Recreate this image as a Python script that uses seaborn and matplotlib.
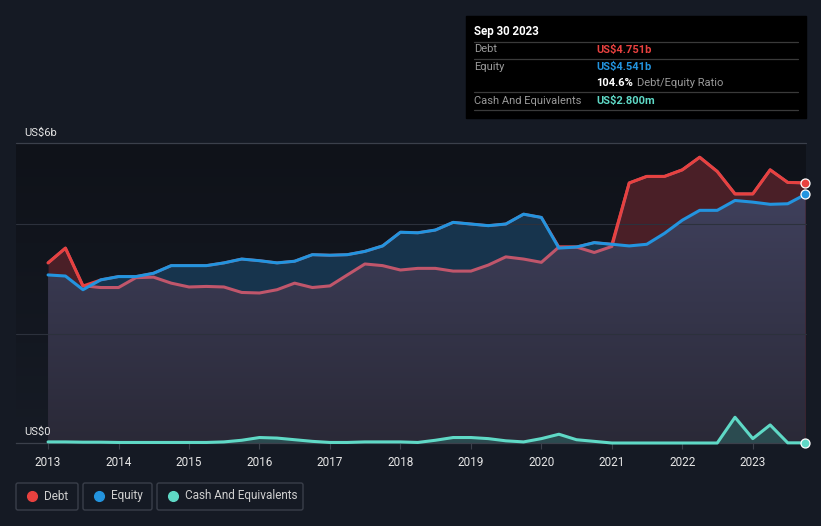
import numpy as np
import pandas as pd
import matplotlib
matplotlib.use("Agg")
import matplotlib.pyplot as plt
import seaborn as sns
from matplotlib.colors import LinearSegmentedColormap
from matplotlib.patches import FancyBboxPatch, Rectangle
from matplotlib.lines import Line2D
from matplotlib.transforms import IdentityTransform

# ------------------------
# Data (US$ billions, one value per quarter, Jan 2013 - Sep 2023)
# ------------------------
quarter_starts = pd.date_range("2013-01-01", "2023-10-01", freq="QS")

debt = [3.29, 3.56, 2.87, 2.84, 2.84, 3.02, 3.03, 2.92,
        2.85, 2.86, 2.85, 2.75, 2.74, 2.80, 2.92, 2.84,
        2.87, 3.07, 3.27, 3.24, 3.16, 3.19, 3.19, 3.14,
        3.14, 3.25, 3.40, 3.36, 3.30, 3.58, 3.58, 3.48,
        3.59, 4.75, 4.87, 4.87, 4.99, 5.22, 4.96, 4.55,
        4.55, 4.99, 4.76, 4.751]

equity = [3.07, 3.05, 2.80, 2.98, 3.04, 3.04, 3.10, 3.24,
          3.24, 3.24, 3.29, 3.36, 3.33, 3.29, 3.32, 3.44,
          3.43, 3.44, 3.50, 3.60, 3.85, 3.84, 3.89, 4.03,
          4.00, 3.97, 4.00, 4.18, 4.12, 3.56, 3.58, 3.66,
          3.63, 3.60, 3.63, 3.83, 4.07, 4.25, 4.25, 4.43,
          4.40, 4.36, 4.37, 4.541]

cash = [0.02, 0.02, 0.015, 0.015, 0.01, 0.01, 0.01, 0.01,
        0.01, 0.01, 0.02, 0.05, 0.10, 0.09, 0.06, 0.03,
        0.01, 0.01, 0.02, 0.02, 0.02, 0.01, 0.05, 0.10,
        0.10, 0.08, 0.04, 0.02, 0.08, 0.16, 0.06, 0.03,
        0.0, 0.0, 0.0, 0.0, 0.0, 0.0, 0.0, 0.47,
        0.08, 0.33, 0.003, 0.0028]

year_ticks = list(range(2013, 2024))

t = np.asarray(quarter_starts.year + (quarter_starts.dayofyear - 1) / 365.25)
debt = np.array(debt)
equity = np.array(equity)
cash = np.array(cash)

# ------------------------
# Style
# ------------------------
BG = "#151a24"
DEBT = "#e8413f"
DEBT_MUTED = "#c0566b"
EQUITY = "#2394df"
CASH = "#5fd9c6"
GRID = "#2c313c"
TEXT = "#e6e6e6"

sns.set_theme(style="dark")
plt.rcParams["font.family"] = ["Roboto", "DejaVu Sans"]

W, H = 821, 526
fig = plt.figure(figsize=(W / 100, H / 100), dpi=100, facecolor=BG)
ax = fig.add_axes([16 / W, (H - 443) / H, 790 / W, 300 / H])
XL = (2012.545, 2023.755)
YL = (0, 5.48)

# plot area background gradient
bg_cmap = LinearSegmentedColormap.from_list("bg", ["#161b25", "#0f1219"])
ax.imshow(np.linspace(0, 1, 256).reshape(-1, 1), extent=[*XL, *YL], origin="lower",
          aspect="auto", cmap=bg_cmap, zorder=0)

# fills between debt and equity
ax.fill_between(t, 0, equity, color="#17344d", lw=0, zorder=1)
ax.fill_between(t, 0, debt, color="#4a1f27", lw=0, zorder=1.1)
ax.fill_between(t, debt, equity, where=equity >= debt, interpolate=True,
                color="#17344d", lw=0, zorder=1.2)

# gradient area under the lower of the two
low = np.minimum(debt, equity)
base = ax.fill_between(t, 0, low, color="none", lw=0, zorder=1.5)
area_cmap = LinearSegmentedColormap.from_list("area", ["#2a2937", "#3f405c"])
im = ax.imshow(np.linspace(0, 1, 256).reshape(-1, 1), extent=[t[0], t[-1], 0, low.max()],
               origin="lower", aspect="auto", cmap=area_cmap, zorder=1.6)
im.set_clip_path(base.get_paths()[0], transform=ax.transData)

# cash area
ax.fill_between(t, 0, cash, color="#2b4b50", lw=0, zorder=1.8)

# gridlines
for yv in (2, 4):
    ax.axhline(yv, color=GRID, lw=0.8, zorder=1.9)
ax.axhline(YL[1], color="#3b404b", lw=0.9, zorder=1.9, clip_on=False)

# lines
sns.lineplot(x=t, y=debt, ax=ax, color=DEBT_MUTED, lw=2.2, legend=False, zorder=3)
sns.lineplot(x=t, y=np.maximum(debt, equity), ax=ax, color=DEBT, lw=2.0, legend=False, zorder=4)
sns.lineplot(x=t, y=equity, ax=ax, color=EQUITY, lw=2.2, legend=False, zorder=5)
sns.lineplot(x=t, y=cash, ax=ax, color=CASH, lw=2.2, legend=False, zorder=5)
for ln in ax.get_lines():
    ln.set_clip_on(False)
    ln.set_solid_capstyle("round")

for yv, c in ((debt[-1], DEBT), (equity[-1], EQUITY), (cash[-1], CASH)):
    ax.scatter([t[-1]], [yv], s=42, color=c, edgecolor="white", linewidth=0.9,
               zorder=7, clip_on=False)

ax.set_xlim(*XL)
ax.set_ylim(*YL)
ax.set_facecolor(BG)
ax.grid(False)
for s in ("top", "right", "left"):
    ax.spines[s].set_visible(False)
ax.spines["bottom"].set_color("#3b404b")
ax.spines["bottom"].set_linewidth(0.9)
ax.set_yticks([])
ax.set_xticks(year_ticks)
ax.set_xticklabels([str(y) for y in year_ticks])
ax.tick_params(axis="x", colors="#3b404b", labelcolor=TEXT, labelsize=8.5,
               length=4, width=0.8, pad=5, bottom=True)
ax.set_xlabel("")
ax.set_ylabel("")


def fx(px):
    return px / W


def fy(py):
    return 1 - py / H


fig.text(fx(24), fy(133), "US$6b", color=TEXT, fontsize=8, va="center")
fig.text(fx(24), fy(432), "US$0", color=TEXT, fontsize=8, va="center")

# ------------------------
# Tooltip box
# ------------------------
fig.add_artist(Rectangle((fx(466), fy(118)), 340 / W, 102 / H,
                         transform=fig.transFigure, color="black", zorder=10))
fig.text(fx(474), fy(31), "Sep 30 2023", color="white", fontsize=8.3,
         fontweight="bold", va="center", zorder=11)
for py in (41.5, 58.5, 92, 110):
    fig.add_artist(Line2D([fx(474), fx(798)], [fy(py), fy(py)], transform=fig.transFigure,
                          color="#3a3a3a", lw=0.9, zorder=11))
rows = [("Debt", "US$4.751b", DEBT, 49.5), ("Equity", "US$4.541b", EQUITY, 66.5),
        ("Cash And Equivalents", "US$2.800m", CASH, 100.5)]
for label, val, c, py in rows:
    fig.text(fx(474), fy(py), label, color="#9a9a9a", fontsize=8, va="center", zorder=11)
    fig.text(fx(596), fy(py), val, color=c, fontsize=8, fontweight="bold",
             va="center", zorder=11)
fig.text(fx(596), fy(83.5), "104.6%", color="white", fontsize=8, fontweight="bold",
         va="center", zorder=11)
fig.text(fx(637), fy(83.5), "Debt/Equity Ratio", color="#9a9a9a", fontsize=8,
         va="center", zorder=11)

# ------------------------
# Legend boxes
# ------------------------
legend_items = [("Debt", DEBT, 16, 78), ("Equity", EQUITY, 83, 152),
                ("Cash And Equivalents", CASH, 157, 303)]
for label, c, x0, x1 in legend_items:
    fig.add_artist(FancyBboxPatch((x0, H - 510), x1 - x0, 27,
                                  boxstyle="round,pad=0,rounding_size=2",
                                  transform=IdentityTransform(), facecolor="none",
                                  edgecolor="#3a3f4a", lw=1.0))
    fig.add_artist(Line2D([fx(x0 + 16)], [fy(496)], transform=fig.transFigure,
                          marker="o", markersize=7, color=c, lw=0))
    fig.text(fx(x0 + 28), fy(496), label, color="#cfcfcf", fontsize=8.5, va="center")

fig.savefig("out.png", dpi=100, facecolor=BG)
